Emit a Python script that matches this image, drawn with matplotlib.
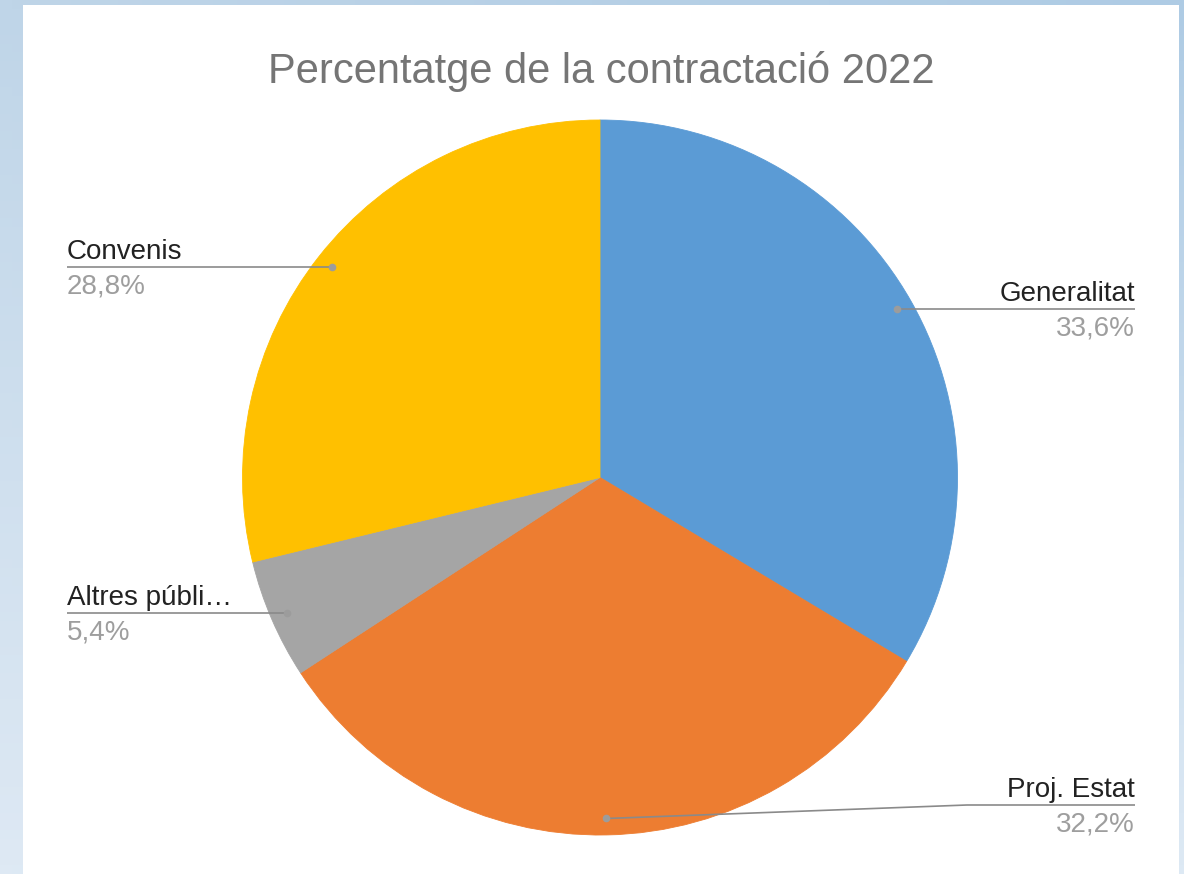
import numpy as np
import matplotlib.pyplot as plt
from matplotlib.patches import Rectangle

plt.rcParams["font.family"] = ["Liberation Sans", "DejaVu Sans"]

# data
labels = ["Generalitat", "Proj. Estat", "Altres públi…", "Convenis"]
values = [33.6, 32.2, 5.4, 28.8]
colors = ["#5b9bd5", "#ed7d31", "#a5a5a5", "#ffc000"]
title = "Percentatge de la contractació 2022"

W, H = 1184, 874
fig = plt.figure(figsize=(W / 100, H / 100), dpi=100)

# light blue gradient frame + white card
bg = fig.add_axes([0, 0, 1, 1], zorder=0)
tl = np.array([191, 213, 232])
tr = np.array([174, 203, 228])
bl = np.array([222, 233, 244])
br = np.array([221, 233, 244])
yy = np.linspace(0, 1, 100)[:, None, None]
xx = np.linspace(0, 1, 100)[None, :, None]
grad = (tl * (1 - xx) * (1 - yy) + tr * xx * (1 - yy)
        + bl * (1 - xx) * yy + br * xx * yy) / 255
bg.imshow(grad, aspect="auto", extent=[0, 1, 0, 1], origin="upper")
bg.add_patch(Rectangle((23 / W, 0), (1179 - 23) / W, (H - 5) / H,
                       facecolor="white", edgecolor="none",
                       transform=bg.transAxes))
bg.set_xlim(0, 1)
bg.set_ylim(0, 1)
bg.axis("off")

# pie axes, 1 data unit = pie radius
R, cx, cy = 357.5, 600, 477.5
ax = fig.add_axes([0, 0, 1, 1], zorder=1)
ax.patch.set_visible(False)
wedges, _ = ax.pie(values, colors=colors, startangle=90, counterclock=False,
                   radius=1, wedgeprops=dict(linewidth=0.6))
for w, c in zip(wedges, colors):
    w.set_edgecolor(c)
ax.set_xlim(-cx / R, (W - cx) / R)
ax.set_ylim(-(H - cy) / R, cy / R)
ax.set_aspect("equal")
ax.axis("off")

x_left = (67 - cx) / R
x_right = (1135 - cx) / R
y_min = -(805 - cy) / R

for w, lab, val in zip(wedges, labels, values):
    ang = np.deg2rad((w.theta1 + w.theta2) / 2)
    dx, dy = 0.954 * np.cos(ang), 0.954 * np.sin(ang)
    right = dx > 0
    x_end = x_right if right else x_left
    y_line = max(dy, y_min)
    if y_line != dy:
        elbow = x_end - 0.47 if right else x_end + 0.47
        xs, ys = [dx, elbow, x_end], [dy, y_line, y_line]
    else:
        xs, ys = [dx, x_end], [dy, y_line]
    ax.plot(xs, ys, color="#8a8a8a", lw=1.2, solid_capstyle="butt", zorder=3)
    ax.plot(dx, dy, "o", ms=5.5, color="#9c9c9c", mec="none", zorder=4)
    ha = "right" if right else "left"
    ax.annotate(lab, (x_end, y_line), xytext=(0, 5.8), textcoords="offset points",
                ha=ha, va="baseline", fontsize=20, color="#222222")
    pct = f"{val:.1f}".replace(".", ",") + "%"
    ax.annotate(pct, (x_end, y_line), xytext=(0, -19), textcoords="offset points",
                ha=ha, va="baseline", fontsize=20, color="#9e9e9e")

fig.text(601 / W, 1 - 83 / H, title, ha="center", va="baseline",
         fontsize=30, color="#757575")

fig.savefig("out.png", dpi=100)
